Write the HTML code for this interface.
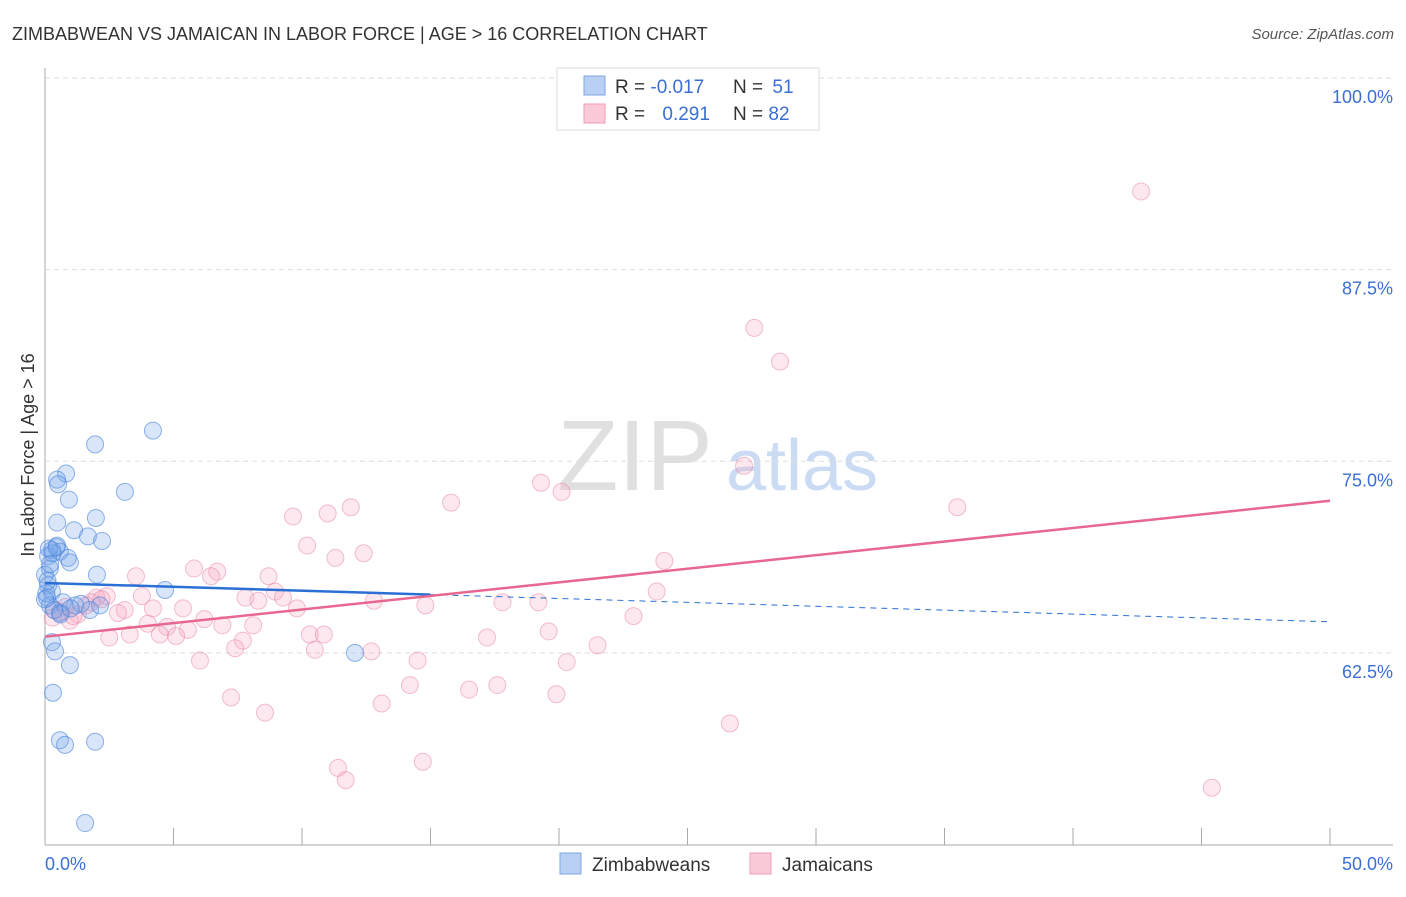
<!DOCTYPE html>
<html><head><meta charset="utf-8"><style>
body{margin:0;background:#fff;font-family:"Liberation Sans",sans-serif;}
svg text{font-family:"Liberation Sans",sans-serif;}
</style></head><body>
<svg id="c" width="1406" height="892" xmlns="http://www.w3.org/2000/svg">
<text x="12" y="40" font-size="18" fill="#333">ZIMBABWEAN VS JAMAICAN IN LABOR FORCE | AGE &gt; 16 CORRELATION CHART</text>
<text x="1394" y="39" font-size="15" fill="#555" font-style="italic" text-anchor="end">Source: ZipAtlas.com</text>
<text x="635" y="490" font-size="100" fill="#ccc" font-family="Liberation Serif,serif" text-anchor="middle" opacity="0.6">ZIP</text>
<text x="802" y="490" font-size="72" fill="#a9c4ee" text-anchor="middle" opacity="0.6">atlas</text>
<g id="grid"></g>
<line x1="45" y1="68" x2="45" y2="845" stroke="#aaa"/>
<line x1="45" y1="845" x2="1393" y2="845" stroke="#aaa"/>
<g id="ticks"></g>
<g id="pts"></g>
<g id="lines"></g>
<text x="45" y="870" font-size="18" fill="#3b6fd4">0.0%</text>
<text x="1393" y="870" font-size="18" fill="#3b6fd4" text-anchor="end">50.0%</text>
<text transform="translate(34,455) rotate(-90)" font-size="18" fill="#333" text-anchor="middle">In Labor Force | Age &gt; 16</text>
<g>
<rect x="557" y="68" width="262" height="62" fill="#fff" stroke="#ddd"/>
<rect x="584" y="76" width="21" height="19" fill="#b8d0f4" stroke="#7ea6e6"/>
<rect x="584" y="104" width="21" height="19" fill="#fbcad8" stroke="#f09bb5"/>
<text x="615" y="93" font-size="19" fill="#333">R = <tspan fill="#3b6fd4">-0.017</tspan></text>
<text x="733" y="93" font-size="19" fill="#333">N = <tspan fill="#3b6fd4" dx="4">51</tspan></text>
<text x="615" y="120" font-size="19" fill="#333">R = <tspan fill="#3b6fd4" dx="12">0.291</tspan></text>
<text x="733" y="120" font-size="19" fill="#333">N = <tspan fill="#3b6fd4">82</tspan></text>
</g>
<g>
<rect x="560" y="853" width="21" height="21" fill="#b8d0f4" stroke="#7ea6e6"/>
<text x="592" y="871" font-size="19" fill="#333">Zimbabweans</text>
<rect x="750" y="853" width="21" height="21" fill="#fbcad8" stroke="#f09bb5"/>
<text x="782" y="871" font-size="19" fill="#333">Jamaicans</text>
</g>
</svg>
<script>
const yTicks=[62.5,75,87.5,100];
const yTickLabels=["62.5%","75.0%","87.5%","100.0%"];
const xTicks=[0,5,10,15,20,25,30,35,40,45,50];
const zimX=[4.2,1.95,0.82,0.47,0.51,3.11,0.93,1.98,0.47,1.13,1.67,2.22,0.47,0.27,0.58,0.12,0.89,0.97,0.19,0,2.02,0.12,0.27,4.67,0.08,0.19,1.17,1.75,0.58,12.06,0.27,0.39,0.97,0.31,0.58,0.78,1.95,1.56,2.14,0.05,0.3,0.7,1.4,0.1,0.0,0.35,0.6,0.2,1.0,0.15,0.45];
const zimY=[77.0,76.1,74.2,73.8,73.5,73.0,72.5,71.3,71.0,70.5,70.1,69.8,69.5,69.2,69.1,68.8,68.7,68.4,68.0,67.6,67.6,66.9,66.5,66.6,66.1,65.6,65.6,65.3,65.1,62.5,63.2,62.6,61.7,59.9,56.8,56.5,56.7,51.4,65.6,66.4,69.0,65.8,65.7,67.2,66.0,65.3,65.0,68.3,65.4,69.3,69.4];
const jamX=[42.65,27.6,28.6,27.2,19.3,20.1,15.8,35.5,11.9,9.65,11.0,10.2,12.4,11.3,24.1,5.8,6.7,6.46,3.54,8.7,23.8,8.95,7.8,8.3,9.26,3.77,2.4,2.0,12.8,17.8,19.2,14.8,9.8,5.37,4.2,3.1,2.84,1.28,0.97,0.39,22.9,6.2,6.9,8.1,4.0,4.75,5.56,4.47,5.1,3.3,2.5,19.6,17.2,10.3,10.85,7.7,7.4,10.5,12.7,21.5,14.5,6.03,20.3,14.2,16.5,17.6,19.9,7.24,13.1,8.56,26.65,11.4,11.7,14.7,45.4,1.6,1.8,0.6,1.1,2.2,0.3,0.8];
const jamY=[92.6,83.7,81.5,74.7,73.6,73.0,72.3,72.0,72.0,71.4,71.6,69.5,69.0,68.7,68.5,68.0,67.8,67.5,67.5,67.5,66.5,66.5,66.1,65.9,66.1,66.2,66.2,66.1,65.9,65.8,65.8,65.6,65.4,65.4,65.4,65.3,65.1,65.0,64.6,65.3,64.9,64.7,64.3,64.3,64.4,64.2,64.0,63.7,63.6,63.7,63.5,63.9,63.5,63.7,63.7,63.3,62.8,62.7,62.6,63.0,62.0,62.0,61.9,60.4,60.1,60.4,59.8,59.6,59.2,58.6,57.9,55.0,54.2,55.4,53.7,65.6,65.8,65.2,64.9,66.0,64.8,65.5];
const NS="http://www.w3.org/2000/svg";
const sx=v=>45+v*25.7, sy=v=>78+(100-v)*15.33;
function mk(t,a,p){const e=document.createElementNS(NS,t);for(const k in a)e.setAttribute(k,a[k]);p.appendChild(e);return e;}
const grid=document.getElementById('grid');
yTicks.forEach((t,i)=>{
 const l=mk('line',{x1:45,x2:1393,y1:sy(t),y2:sy(t),stroke:'#ddd','stroke-dasharray':'5,4'},grid);
 
 
 const tx=mk('text',{x:1393,y:sy(t)+25,'font-size':18,fill:'#3b6fd4','text-anchor':'end'},grid);
 tx.textContent=yTickLabels[i];
 
 
});
const tk=document.getElementById('ticks');
xTicks.forEach(t=>{
 const l=mk('line',{x1:sx(t),x2:sx(t),y1:828,y2:845,stroke:'#aaa'},tk);
 
 
});
const pts=document.getElementById('pts');
function dots(X,Y,fill,stroke,name){X.forEach((x,i)=>{
 const c=mk('circle',{cx:sx(x),cy:sy(Y[i]),r:8.5,fill:fill,stroke:stroke,'stroke-width':1},pts);
 
 
});}
dots(jamX,jamY,'rgba(246,165,190,0.25)','rgba(232,130,160,0.5)','jamaican-point');
dots(zimX,zimY,'rgba(120,165,235,0.28)','rgba(70,130,220,0.6)','zimbabwean-point');
function reg(X,Y){const n=X.length;let mx=0,my=0;for(let i=0;i<n;i++){mx+=X[i];my+=Y[i];}mx/=n;my/=n;let sxy=0,sxx=0;for(let i=0;i<n;i++){sxy+=(X[i]-mx)*(Y[i]-my);sxx+=(X[i]-mx)**2;}const b=sxy/sxx;return [my-b*mx,b];}
const lines=document.getElementById('lines');
const [za,zb]=reg(zimX,zimY);
let l=mk('line',{x1:sx(0),y1:sy(za),x2:sx(15),y2:sy(za+zb*15),stroke:'#2a6fd6','stroke-width':2.5},lines);


l=mk('line',{x1:sx(15),y1:sy(za+zb*15),x2:sx(50),y2:sy(za+zb*50),stroke:'#2a6fd6','stroke-width':1,'stroke-dasharray':'6,5'},lines);


const [ja,jb]=reg(jamX,jamY);
l=mk('line',{x1:sx(0),y1:sy(ja),x2:sx(50),y2:sy(ja+jb*50),stroke:'#e8678f','stroke-width':2.5},lines);


</script>
</body></html>
